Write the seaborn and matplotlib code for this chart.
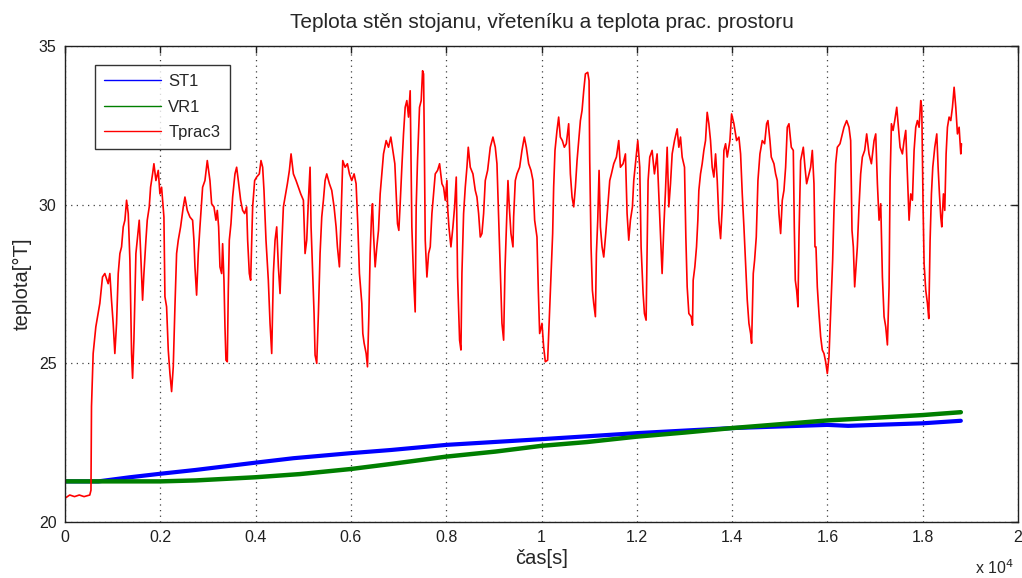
import numpy as np
import pandas as pd
import matplotlib
matplotlib.use("Agg")
import matplotlib.pyplot as plt
import seaborn as sns
from matplotlib.ticker import FuncFormatter
from matplotlib.lines import Line2D

# ---------------- data ----------------
title = "Teplota stěn stojanu, vřeteníku a teplota prac. prostoru"
xlabel = "čas[s]"
ylabel = "teplota[°T]"
series_names = ["ST1", "VR1", "Tprac3"]

st1_t = [0, 700, 1363, 2000, 2740, 4000, 4794, 6000, 6848, 8000, 10000, 12000, 14000, 15200, 16000, 16436, 17200, 18000, 18800]
st1_v = [21.28, 21.28, 21.41, 21.52, 21.64, 21.87, 22.01, 22.17, 22.27, 22.43, 22.61, 22.80, 22.96, 23.02, 23.06, 23.03, 23.07, 23.11, 23.19]

vr1_t = [0, 2000, 2740, 4000, 4931, 6000, 6848, 8000, 9039, 10000, 10957, 12000, 13012, 14000, 16000, 18000, 18800]
vr1_v = [21.28, 21.28, 21.31, 21.41, 21.51, 21.67, 21.83, 22.06, 22.22, 22.40, 22.52, 22.69, 22.82, 22.96, 23.20, 23.37, 23.46]

tprac_t = [
    0, 100, 200, 300, 400, 520, 545, 556, 591, 647, 696, 731, 787, 836, 906, 941, 976, 1011, 1046, 1082,
    1117, 1152, 1187, 1222, 1257, 1292, 1327, 1362, 1397, 1418, 1446, 1488, 1516, 1558, 1586, 1628, 1656,
    1698, 1726, 1768, 1796, 1838, 1866, 1908, 1957, 1992, 2027, 2076, 2097, 2132, 2167, 2202, 2237, 2272,
    2307, 2342, 2377, 2426, 2482, 2517, 2566, 2622, 2678, 2706, 2727, 2762, 2797, 2832, 2888, 2937, 2986,
    3042, 3077, 3126, 3168, 3196, 3224, 3252, 3287, 3308, 3336, 3357, 3378, 3406, 3427, 3448, 3483, 3518,
    3567, 3602, 3637, 3686, 3728, 3770, 3812, 3833, 3868, 3896, 3938, 3980, 4022, 4078, 4113, 4148, 4176,
    4218, 4267, 4303, 4338, 4373, 4408, 4443, 4478, 4513, 4548, 4583, 4618, 4667, 4709, 4744, 4793, 4849,
    4898, 4947, 5003, 5038, 5073, 5108, 5143, 5164, 5199, 5227, 5248, 5283, 5318, 5353, 5388, 5423, 5458,
    5493, 5549, 5598, 5647, 5689, 5717, 5759, 5787, 5829, 5878, 5927, 5969, 6018, 6067, 6109, 6144, 6179,
    6229, 6250, 6278, 6320, 6348, 6376, 6404, 6432, 6453, 6474, 6509, 6544, 6579, 6614, 6649, 6684, 6740,
    6789, 6838, 6880, 6922, 6950, 6978, 7006, 7034, 7069, 7104, 7139, 7174, 7209, 7244, 7258, 7279, 7314,
    7349, 7370, 7398, 7440, 7475, 7504, 7525, 7539, 7560, 7595, 7630, 7665, 7700, 7735, 7770, 7819, 7861,
    7910, 7945, 7980, 8015, 8029, 8057, 8099, 8141, 8176, 8211, 8239, 8281, 8309, 8330, 8365, 8400, 8435,
    8463, 8505, 8561, 8610, 8645, 8680, 8715, 8750, 8785, 8820, 8869, 8925, 8981, 9030, 9065, 9100, 9135,
    9170, 9205, 9233, 9261, 9296, 9324, 9359, 9401,
    9415, 9450, 9485, 9541, 9590, 9639, 9681, 9730, 9779, 9821, 9856, 9905, 9933, 9961, 10010, 10045,
    10080, 10129, 10171, 10206, 10234, 10255, 10283, 10325, 10360, 10395, 10437, 10479, 10521, 10570,
    10606, 10641, 10676, 10711, 10746, 10781, 10816, 10851, 10886, 10921, 10970, 10998, 11012, 11040,
    11068, 11096, 11131, 11152, 11180, 11208, 11236, 11271, 11306, 11348, 11390, 11432, 11467, 11516,
    11572, 11621, 11656, 11712, 11761, 11796, 11831, 11866, 11908, 11936, 11971, 12020, 12062, 12090,
    12132, 12160, 12195, 12216, 12237, 12272, 12321, 12370, 12426, 12461, 12496, 12531,
    12567, 12602, 12637, 12672, 12707, 12742, 12791, 12847, 12882, 12917, 12952, 13001, 13029, 13057,
    13092, 13141, 13169, 13183, 13218, 13253, 13281, 13302, 13337, 13372, 13407, 13442, 13477, 13512,
    13547, 13582, 13617, 13653, 13688, 13723, 13758, 13793, 13828, 13863, 13898, 13954, 13989, 14038,
    14094, 14143, 14178, 14213, 14248, 14283, 14318, 14353, 14388, 14409, 14444, 14472, 14507, 14542,
    14584, 14633, 14682, 14724, 14752, 14794, 14822, 14878, 14913, 14948, 14983, 15018, 15053, 15088,
    15123, 15158, 15193, 15242, 15284, 15305, 15326, 15354, 15382, 15403, 15438, 15494, 15529, 15564,
    15613, 15648, 15683, 15718, 15739,
    15760, 15788, 15823, 15858, 15893, 15928, 15963, 15998, 16033, 16054, 16082, 16110, 16138, 16173,
    16208, 16264, 16313, 16348, 16404, 16453, 16488, 16516, 16544, 16572, 16600, 16628, 16663, 16698,
    16733, 16782, 16824, 16873, 16923, 16979, 17014, 17049, 17084, 17119, 17154, 17189, 17224, 17259,
    17294, 17315, 17343, 17378, 17413, 17455, 17483, 17525, 17574, 17609, 17644, 17679, 17714, 17749,
    17784, 17819, 17854, 17889, 17924, 17959, 17980, 18008, 18029, 18064, 18099, 18127, 18155, 18183,
    18211, 18253, 18295, 18323, 18351, 18379, 18400, 18435, 18463, 18491, 18519, 18554, 18589, 18624,
    18659, 18694, 18729, 18764, 18799, 18813,
]
tprac_v = [
    20.75, 20.85, 20.80, 20.85, 20.80, 20.85, 21.00, 23.64, 25.31, 26.15, 26.57, 26.89, 27.72, 27.83, 27.51, 27.83, 26.99, 26.26, 25.31, 26.26,
    27.83, 28.46, 28.67, 29.30, 29.51, 30.14, 29.72, 28.25, 25.31, 24.53, 25.73, 28.46, 28.88, 29.51, 28.56, 26.99, 27.83,
    28.88, 29.51, 29.93, 30.55, 30.97, 31.29, 30.76, 31.08, 30.34, 30.55, 29.61, 27.10, 26.78, 25.42, 24.68, 24.11, 24.89,
    26.78, 28.46, 28.88, 29.30, 29.93, 30.24, 29.82, 29.61, 29.51, 28.88, 28.04, 27.15, 28.46, 29.30, 30.55, 30.76, 31.39,
    30.76, 30.03, 29.93, 29.51, 29.82, 29.30, 28.04, 27.83, 28.77, 27.62, 26.15, 25.10, 25.05, 27.30, 28.88, 29.40, 30.24,
    30.97, 31.18, 30.76, 30.14, 29.82, 29.72, 29.93, 28.88, 27.83, 27.62, 29.93, 30.76, 30.87, 30.97, 31.39, 31.18, 30.45,
    28.88, 27.62, 26.26, 25.31, 27.83, 28.88, 29.30, 28.04, 27.20, 28.67, 29.93, 30.24, 30.66, 31.08, 31.60, 30.97, 30.76,
    30.55, 30.34, 30.14, 28.46, 28.88, 30.14, 31.18, 29.30, 27.83, 26.57, 25.26, 25.00, 26.57, 28.46, 29.61, 30.14, 30.76,
    30.97, 30.66, 30.45, 29.93, 29.30, 28.67, 28.04, 29.30, 31.39, 31.18, 31.29, 30.97, 30.76, 30.97, 30.66, 29.40, 27.83,
    26.89, 25.94, 25.63, 25.31, 24.89, 26.47, 28.46, 29.61, 30.03, 29.09, 28.04, 28.67, 29.19, 30.34, 30.97, 31.60, 32.02,
    31.81, 32.13, 31.71, 31.29, 30.34, 29.40, 29.19, 30.03, 31.18, 32.23, 33.07, 33.28, 32.76, 33.59, 31.81, 29.30, 27.72,
    26.62, 29.93, 31.39, 33.07, 33.28, 34.22, 34.12, 32.23, 28.88, 27.72, 28.46, 28.67, 29.72, 30.34, 30.97, 31.08, 31.29,
    30.66, 30.55, 30.14, 30.76, 29.93, 29.30, 28.67, 29.30, 29.93, 30.87, 27.72, 25.73, 25.42, 27.83, 29.72, 30.55, 31.18,
    31.81, 31.18, 30.97, 30.45, 30.24, 29.72, 28.98, 29.09, 29.72, 30.76, 31.08, 31.81, 32.13, 31.81, 31.29, 29.61, 28.04,
    26.26, 25.73, 27.93, 29.19, 30.76, 29.93, 29.09, 28.67,
    29.61, 30.76, 30.97, 31.18, 31.71, 32.13, 31.81, 31.29, 31.08, 30.76, 29.51, 28.98, 27.30, 25.94, 26.26, 25.52,
    25.05, 25.10, 26.68, 27.93, 29.09, 30.55, 31.71, 32.34, 32.76, 32.13, 32.02, 31.81, 31.92, 32.55,
    30.97, 30.24, 29.93, 30.55, 31.39, 32.02, 32.65, 32.97, 33.59, 34.12, 34.17, 33.91, 31.39, 28.67,
    27.30, 26.89, 26.47, 28.46, 29.51, 31.08, 29.30, 28.67, 28.35, 29.09, 29.93, 30.76, 30.97, 31.29,
    31.50, 32.02, 31.18, 31.29, 31.60, 29.72, 28.88, 29.51, 29.93, 30.76, 31.29, 32.02, 31.18, 28.67,
    27.20, 26.57, 26.36, 28.46, 30.76, 31.50, 31.71, 30.97, 31.60, 30.34, 29.09, 27.83,
    29.30, 30.45, 31.81, 29.93, 30.66, 31.60, 32.02, 32.39, 31.81, 32.13, 31.50, 31.18, 28.98, 27.41,
    26.57, 26.47, 26.20, 27.62, 28.04, 28.67, 29.51, 30.45, 30.97, 31.29, 31.71, 32.02, 32.91, 32.55,
    32.02, 31.18, 30.87, 31.60, 30.76, 29.51, 28.93, 29.93, 31.71, 31.92, 31.50, 32.02, 32.86, 32.55,
    32.02, 32.13, 31.60, 30.34, 29.30, 28.14, 26.99, 26.26, 25.94, 25.63, 27.83, 28.25, 28.98, 30.76,
    31.60, 32.02, 31.92, 32.55, 32.65, 32.02, 31.50, 31.29, 30.97, 30.76, 29.72, 29.09, 30.14, 30.45,
    31.18, 32.44, 32.55, 31.81, 31.71, 29.30, 27.62, 27.30, 26.78, 28.98, 31.39, 31.81, 31.18, 30.66,
    30.97, 31.18, 31.71, 30.66, 28.67,
    28.67, 27.41, 26.57, 25.84, 25.42, 25.31, 25.05, 24.68, 25.21, 26.05, 27.20, 28.25, 29.82, 31.29,
    31.81, 31.92, 32.23, 32.44, 32.65, 32.44, 32.02, 29.19, 28.67, 27.41, 28.04, 28.67, 29.93, 30.97,
    31.50, 31.71, 32.23, 31.60, 31.29, 32.02, 32.23, 30.66, 29.51, 30.03, 27.72, 26.47, 26.15, 25.58,
    27.41, 30.76, 32.55, 32.34, 32.65, 33.07, 32.55, 31.81, 31.60, 32.02, 32.34, 30.97, 29.51, 30.34,
    30.14, 31.71, 32.44, 32.65, 32.44, 33.28, 33.07, 29.93, 28.14, 27.30, 26.89, 26.41, 28.88, 30.34,
    31.18, 31.81, 32.23, 31.18, 30.34, 29.61, 29.30, 30.34, 29.82, 31.60, 32.44, 32.76, 32.65, 33.07,
    33.70, 33.07, 32.23, 32.44, 31.60, 31.92,
]

xticks = [0, 2000, 4000, 6000, 8000, 10000, 12000, 14000, 16000, 18000, 20000]
yticks = [20, 25, 30, 35]
colors = {"ST1": "#0000ff", "VR1": "#007f00", "Tprac3": "#ff0000"}

# ---------------- plot ----------------
sns.set_style("white")
plt.rcParams["font.family"] = ["Liberation Sans", "DejaVu Sans"]

fig = plt.figure(figsize=(10.22, 5.78), dpi=100)
ax = fig.add_axes([0.0636, 0.0969, 0.9325, 0.8235])

df_st = pd.DataFrame({"t": st1_t, "v": st1_v})
df_vr = pd.DataFrame({"t": vr1_t, "v": vr1_v})
df_tp = pd.DataFrame({"t": tprac_t, "v": tprac_v})

sns.lineplot(data=df_st, x="t", y="v", ax=ax, color=colors["ST1"], lw=3.0,
             estimator=None, sort=False, label="_nolegend_")
sns.lineplot(data=df_vr, x="t", y="v", ax=ax, color=colors["VR1"], lw=3.2,
             estimator=None, sort=False, label="_nolegend_")
sns.lineplot(data=df_tp, x="t", y="v", ax=ax, color=colors["Tprac3"], lw=1.2,
             estimator=None, sort=False, label="_nolegend_")

handles = [Line2D([], [], color=colors[n], lw=1.0) for n in series_names]
leg = ax.legend(handles, series_names, loc="upper left", bbox_to_anchor=(0.0315, 0.96),
                borderaxespad=0, fontsize=12, handlelength=3.4, handletextpad=0.45,
                labelspacing=0.62, borderpad=0.55, frameon=True, fancybox=False)
leg.get_frame().set_edgecolor("black")
leg.get_frame().set_linewidth(1.0)

ax.set_xlim(0, 20000)
ax.set_ylim(20, 35)
ax.set_xticks(xticks)
ax.set_yticks(yticks)
ax.xaxis.set_major_formatter(FuncFormatter(lambda v, p: f"{v/1e4:g}"))
ax.tick_params(direction="in", length=5, width=1, top=True, right=True,
               labelsize=11.5, colors="#202020", pad=6)
ax.grid(True, color="#404040", linestyle=(0, (1, 3.5)), linewidth=0.9)
for s in ax.spines.values():
    s.set_color("#202020")
    s.set_linewidth(1.0)

ax.set_xlabel(xlabel, fontsize=14.5, labelpad=3)
ax.set_ylabel(ylabel, fontsize=14.5, labelpad=5)
ax.set_title(title, fontsize=15, pad=13)
ax.text(0.955, -0.095, r"x 10$^4$", transform=ax.transAxes, fontsize=11.5,
        ha="left", va="center")

fig.savefig("out.png", dpi=100)
